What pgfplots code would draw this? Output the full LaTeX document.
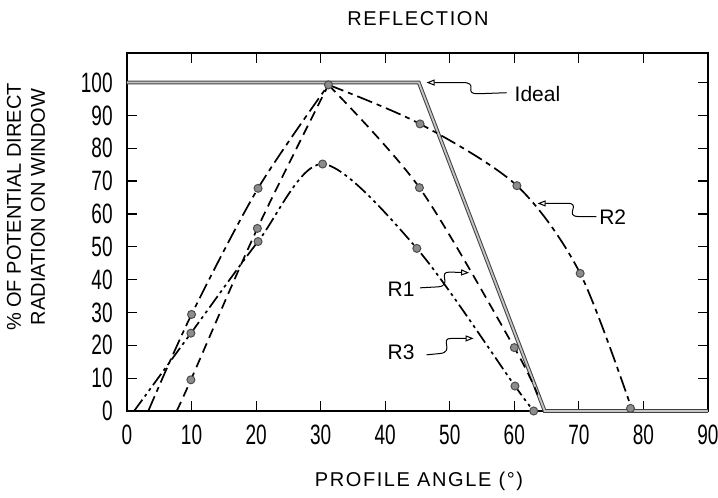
\documentclass[border=0pt]{standalone}
\usepackage{fontspec}
\setmainfont{Liberation Sans}
\newfontfamily\tickfont[FakeStretch=0.68]{Liberation Sans}
\newfontfamily\labfont[LetterSpace=8]{Liberation Sans}
\usepackage{pgfplots}
\pgfplotsset{compat=1.18}
\usetikzlibrary{arrows.meta}
\definecolor{markfill}{gray}{0.55}
\definecolor{markdraw}{gray}{0.3}
\begin{document}
\begin{tikzpicture}
\path[use as bounding box] (-63.5pt,-43.5pt) rectangle (295.5pt,205.5pt);
\begin{axis}[
  at={(0,0)}, anchor=south west,
  scale only axis, width=290.5pt, height=179pt,
  xmin=0, xmax=90, ymin=0, ymax=109,
  xtick={0,10,...,90}, ytick={0,10,...,100},
  xtick pos=both, ytick pos=both,
  xticklabel pos=lower, yticklabel pos=left,
  tick align=inside, major tick length=5pt,
  axis line style={line width=0.8pt},
  tick style={line width=0.6pt, black},
  /pgf/number format/assume math mode=true,
  tick label style={font=\tickfont\fontsize{14}{14}\selectfont, inner sep=0pt},
  xticklabel style={yshift=-7pt},
  yticklabel style={xshift=-7pt},
  clip=false,
  every axis plot/.append style={line width=0.85pt, black},
]
% Ideal
\addplot[draw=black!75, double=gray!45, double distance=0.9pt, line width=0.5pt]
  coordinates {(0,100) (45.2,100) (64.7,0) (90,0)};
% R1
\addplot[smooth, dash pattern=on 5pt off 3pt] coordinates {(7.7,0) (9.9,9.5) (20.2,55.6) (31.2,99.3)};
\addplot[smooth, dash pattern=on 5pt off 3pt] coordinates {(31.2,99.3) (45.3,68.0) (60.0,19.3) (63.6,5)};
% R2
\addplot[smooth, dash pattern=on 8pt off 2.5pt on 2.5pt off 2.5pt] coordinates {(3.3,0) (10,29.4) (20.3,67.8) (31.2,99.3)};
\addplot[smooth, dash pattern=on 8pt off 2.5pt on 2.5pt off 2.5pt] coordinates {(31.2,99.3) (45.4,87.4) (60.4,68.6) (70.2,41.9) (78.3,0)};
% R3
\addplot[smooth, dash pattern=on 7pt off 2pt on 1.5pt off 2pt on 1.5pt off 2pt] coordinates {(1.1,0) (9.9,23.7) (20.3,51.6) (30.3,75.2) (44.9,49.5) (60.1,7.6) (63,0)};
% markers
\addplot[only marks, mark=*, mark size=2pt, mark options={fill=markfill, draw=markdraw, line width=0.5pt, solid}]
  coordinates {(9.9,9.5) (20.2,55.6) (31.2,99.3) (45.3,68.0) (60.0,19.3)
               (10,29.4) (20.3,67.8) (45.4,87.4) (60.4,68.6) (70.2,41.9) (78,0.8)
               (9.9,23.7) (20.3,51.6) (30.3,75.2) (44.9,49.5) (60.1,7.6) (63,0)};
% annotations
\begin{scope}[line width=0.5pt, black]
\draw[-{Triangle[open,length=4pt,width=3pt]}] (axis cs:58.8,96.9) -- (axis cs:54.5,96.6) .. controls (axis cs:51.8,96.4) and (axis cs:54.8,100.2) .. (axis cs:51.8,100) -- (axis cs:46.4,100);
\draw[-{Triangle[open,length=4pt,width=3pt]}] (axis cs:72.7,59.2) -- (axis cs:70.0,59.2) .. controls (axis cs:67.6,59.2) and (axis cs:70.5,63.4) .. (axis cs:68.2,63.2) -- (axis cs:63.6,63.2);
\draw[-{Triangle[open,length=4pt,width=3pt]}] (axis cs:45.4,37.5) -- (axis cs:48.2,37.8) .. controls (axis cs:50.5,38.2) and (axis cs:48.0,42.4) .. (axis cs:50.0,42.3) -- (axis cs:53.0,42.1);
\draw[-{Triangle[open,length=4pt,width=3pt]}] (axis cs:46.4,17.1) -- (axis cs:48.5,17.5) .. controls (axis cs:50.8,18.0) and (axis cs:48.3,22.3) .. (axis cs:50.3,22.1) -- (axis cs:53.7,22.1);
\end{scope}
\node[anchor=west, inner sep=0pt, font=\fontsize{10.5}{12}\selectfont] at (axis cs:60.0,96.5) {Ideal};
\node[anchor=west, inner sep=0pt, font=\fontsize{10.5}{12}\selectfont] at (axis cs:73.1,58.9) {R2};
\node[anchor=east, inner sep=0pt, font=\fontsize{10.5}{12}\selectfont] at (axis cs:44.6,37.1) {R1};
\node[anchor=east, inner sep=0pt, font=\fontsize{10.5}{12}\selectfont] at (axis cs:44.6,17.8) {R3};
\end{axis}
\node[font=\labfont\fontsize{10}{12}\selectfont] at (145.5pt,196.25pt) {REFLECTION};
\node[font=\labfont\fontsize{10}{12}\selectfont] at (146pt,-35.25pt) {PROFILE ANGLE (°)};
\node[rotate=90, align=center, font=\fontsize{10}{12}\selectfont] at (-50.5pt,102pt) {\% OF POTENTIAL DIRECT\\RADIATION ON WINDOW};
\end{tikzpicture}
\end{document}
